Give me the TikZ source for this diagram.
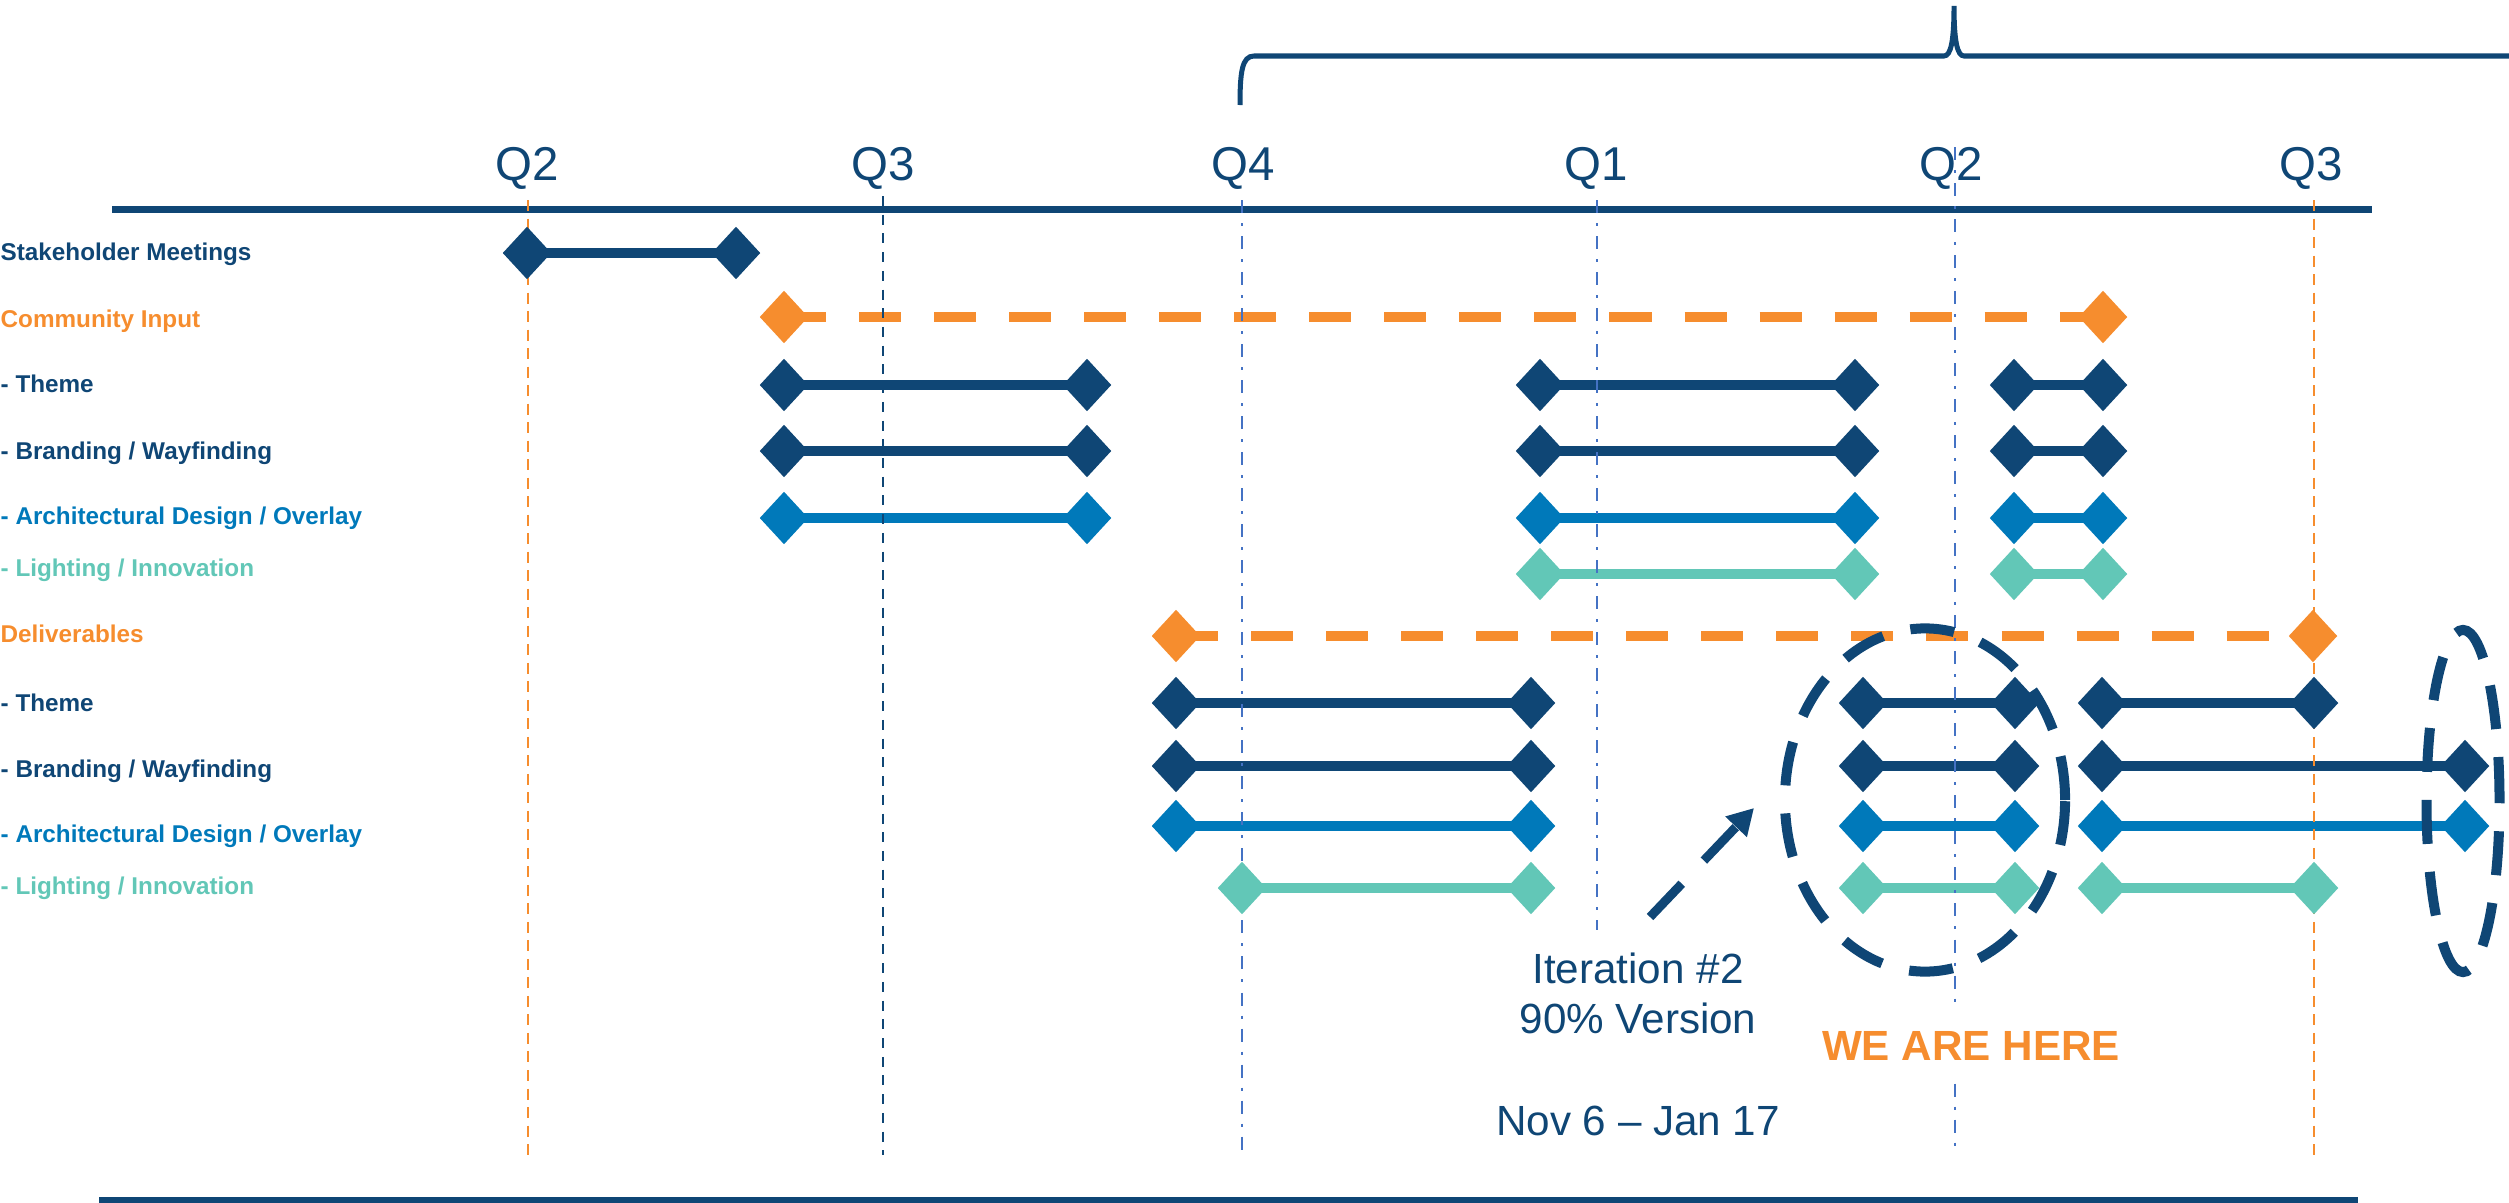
\documentclass[tikz,border=0pt]{standalone}
\usepackage{fontspec}
\setmainfont{Liberation Sans}
\usetikzlibrary{shapes.geometric,arrows.meta}
\definecolor{navy}{RGB}{15,70,117}
\definecolor{orng}{RGB}{246,141,46}
\definecolor{mblue}{RGB}{0,121,186}
\definecolor{tealc}{RGB}{98,199,183}
\definecolor{lblue}{RGB}{68,114,196}
\pgfdeclarelayer{bars}
\pgfdeclarelayer{vlines}
\pgfsetlayers{bars,vlines,main}
\newcommand\ganttbar[6]{%
  \node[dia,fill=#2] (#1a) at (#3,#5) {};
  \node[dia,fill=#2] (#1b) at (#4,#5) {};
  \begin{pgfonlayer}{bars}
  \draw[#6,draw=#2] (#1a.center) -- (#1b.center);
  \end{pgfonlayer}
}
\begin{document}
\begin{tikzpicture}[x=0.01cm,y=-0.01cm,
  dia/.style={diamond,inner sep=0pt,minimum width=0.49cm,minimum height=0.53cm,draw=none},
  solidbar/.style={line width=0.105cm},
  dashbar/.style={line width=0.105cm,dash pattern=on 0.42cm off 0.33cm},
  lab/.style={anchor=base west,inner sep=0pt,font=\fontsize{6.9pt}{8pt}\selectfont\bfseries},
  qlab/.style={anchor=base,inner sep=0pt,text=navy,font=\fontsize{13.5pt}{16pt}\selectfont},
  note/.style={anchor=base,inner sep=0pt,text=navy,font=\fontsize{12pt}{14pt}\selectfont},
  orguide/.style={orng,line width=0.025cm,dash pattern=on 0.11cm off 0.075cm},
  nvguide/.style={navy,line width=0.022cm,dash pattern=on 0.10cm off 0.087cm},
  blguide/.style={lblue,line width=0.028cm,dash pattern=on 0.13cm off 0.10cm on 0.03cm off 0.10cm},
  ring/.style={draw=navy,ellipse,inner sep=0pt,line width=0.1cm,dash pattern=on 0.44cm off 0.28cm}
]
\useasboundingbox (0,0) rectangle (2509,1203);

% axis lines
\begin{pgfonlayer}{bars}
\draw[navy,line width=0.07cm] (112,209) -- (2372,209);
\end{pgfonlayer}
\draw[navy,line width=0.07cm] (99,1200) -- (2358,1200);

% brace
\draw[navy,line width=0.05cm] (1240,105) .. controls (1240,72) and (1242,56) .. (1254,56)
  -- (1944,56) .. controls (1951,56) and (1954,40) .. (1954,6)
  .. controls (1954,40) and (1957,56) .. (1964,56) -- (2520,56);

% quarter guides
\begin{pgfonlayer}{vlines}
\draw[orguide] (528,200) -- (528,1155);
\draw[nvguide] (883,196) -- (883,1155);
\draw[blguide] (1242,200) -- (1242,1155);
\draw[blguide] (1597,200) -- (1597,930);
\draw[blguide] (1955,147) -- (1955,1155);
\draw[orguide] (2314,200) -- (2314,1155);
\end{pgfonlayer}

% quarter labels
\node[qlab] (lqa) at (527,180) {Q2};
\node[qlab] (lqb) at (883,180) {Q3};
\node[qlab] (lqc) at (1243,180) {Q4};
\node[qlab] (lqd) at (1596,180) {Q1};
\node[qlab] (lqe) at (1951,180) {Q2};
\node[qlab] (lqf) at (2311,180) {Q3};

% row labels
\node[lab,text=navy]  (r1) at (0,260) {Stakeholder Meetings};
\node[lab,text=orng]  (r2) at (0,327) {Community Input};
\node[lab,text=navy]  (r3) at (0,392) {- Theme};
\node[lab,text=navy]  (r4) at (0,459) {- Branding / Wayfinding};
\node[lab,text=mblue] (r5) at (0,524) {- Architectural Design / Overlay};
\node[lab,text=tealc] (r6) at (0,576) {- Lighting / Innovation};
\node[lab,text=orng]  (r7) at (0,642) {Deliverables};
\node[lab,text=navy]  (r8) at (0,711) {- Theme};
\node[lab,text=navy]  (r9) at (0,777) {- Branding / Wayfinding};
\node[lab,text=mblue] (r10) at (0,842) {- Architectural Design / Overlay};
\node[lab,text=tealc] (r11) at (0,894) {- Lighting / Innovation};

% bars: first block
\ganttbar{sm}{navy}{527}{736}{253}{solidbar}
\ganttbar{ci}{orng}{784}{2103}{317}{dashbar}
\ganttbar{tha}{navy}{784}{1087}{385}{solidbar}
\ganttbar{thb}{navy}{1540}{1855}{385}{solidbar}
\ganttbar{thc}{navy}{2014}{2103}{385}{solidbar}
\ganttbar{bra}{navy}{784}{1087}{451}{solidbar}
\ganttbar{brb}{navy}{1540}{1855}{451}{solidbar}
\ganttbar{brc}{navy}{2014}{2103}{451}{solidbar}
\ganttbar{ara}{mblue}{784}{1087}{518}{solidbar}
\ganttbar{arb}{mblue}{1540}{1855}{518}{solidbar}
\ganttbar{arc}{mblue}{2014}{2103}{518}{solidbar}
\ganttbar{lib}{tealc}{1540}{1855}{574}{solidbar}
\ganttbar{lic}{tealc}{2014}{2103}{574}{solidbar}

% bars: second block
\ganttbar{dl}{orng}{1176}{2313}{636}{dashbar}
\ganttbar{tta}{navy}{1176}{1531}{703}{solidbar}
\ganttbar{ttb}{navy}{1863}{2015}{703}{solidbar}
\ganttbar{ttc}{navy}{2102}{2314}{703}{solidbar}
\ganttbar{bba}{navy}{1176}{1531}{766}{solidbar}
\ganttbar{bbb}{navy}{1863}{2015}{766}{solidbar}
\ganttbar{bbc}{navy}{2102}{2465}{766}{solidbar}
\ganttbar{aaa}{mblue}{1176}{1531}{826}{solidbar}
\ganttbar{aab}{mblue}{1863}{2015}{826}{solidbar}
\ganttbar{aac}{mblue}{2102}{2465}{826}{solidbar}
\ganttbar{lla}{tealc}{1242}{1531}{888}{solidbar}
\ganttbar{llb}{tealc}{1863}{2015}{888}{solidbar}
\ganttbar{llc}{tealc}{2102}{2314}{888}{solidbar}

% highlight rings
\node[ring,minimum width=2.8cm,minimum height=3.43cm] (here) at (1925,800) {};
\node[ring,minimum width=0.73cm,minimum height=3.42cm] (nextr) at (2463,801) {};

% arrow
\coordinate (arT) at (1650,917);
\coordinate (arH) at (1754,808);
\draw[navy,line width=0.09cm,dash pattern=on 0.46cm off 0.32cm,-{Triangle[length=0.26cm,width=0.28cm]}] (arT) -- (arH);

% notes
\node[note] (it1) at (1638,983) {Iteration \#2};
\node[note] (it2) at (1638,1033) {90\% Version};
\node[note] (nov) at (1638,1135) {Nov 6 – Jan 17};
\node[anchor=base,fill=white,inner xsep=2pt,inner ysep=0.2cm,text=orng,font=\fontsize{12pt}{14pt}\selectfont\bfseries] (weh) at (1971,1060) {WE ARE HERE};
\end{tikzpicture}
\end{document}
